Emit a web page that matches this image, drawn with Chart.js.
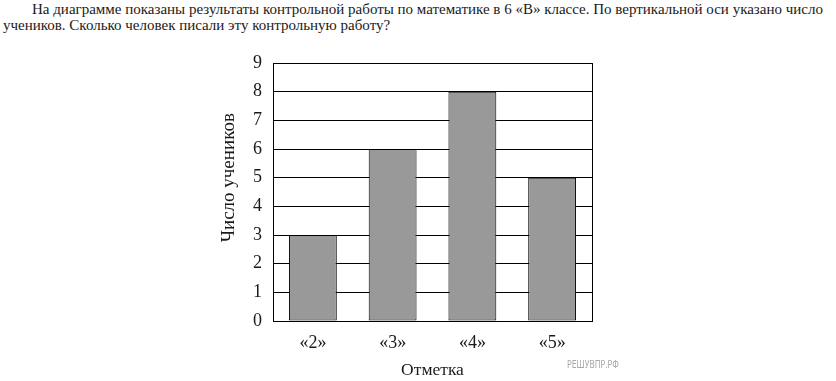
<!DOCTYPE html>
<html lang="ru">
<head>
<meta charset="utf-8">
<title>Отметка</title>
<script src="https://cdn.jsdelivr.net/npm/chart.js@4.4.1/dist/chart.umd.min.js"></script>
<style>
  html, body {
    margin: 0;
    padding: 0;
    background: #fff;
  }
  body {
    width: 836px;
    height: 381px;
    position: relative;
    overflow: hidden;
    font-family: 'Liberation Serif', 'Times New Roman', serif;
    color: #1a1a1a;
  }
  .question {
    position: absolute;
    font-size: 15px;
    line-height: 16px;
    white-space: nowrap;
  }
  .line-1 {
    left: 32px;
    top: 1px;
  }
  .line-2 {
    left: 3px;
    top: 17px;
  }
  #chartBox {
    position: absolute;
    left: 0;
    top: 0;
    width: 836px;
    height: 381px;
  }
  .watermark {
    position: absolute;
    left: 567px;
    top: 358px;
    font-family: 'DejaVu Sans', sans-serif;
    font-size: 11px;
    color: #a8a8a8;
    transform: scaleX(0.7);
    transform-origin: left top;
  }
</style>
</head>
<body>
<div class="question line-1">На диаграмме показаны результаты контрольной работы по математике в 6 «В» классе. По вертикальной оси указано число</div>
<div class="question line-2">учеников. Сколько человек писали эту контрольную работу?</div>
<div id="chartBox"><canvas id="chart"></canvas></div>
<div class="watermark">РЕШУВПР.РФ</div>
<script>
const grades = ['«2»', '«3»', '«4»', '«5»'];
const studentCounts = [3, 6, 8, 5];
const yTicks = [0, 1, 2, 3, 4, 5, 6, 7, 8, 9];

const serif = "'Liberation Serif', 'Times New Roman', serif";
const ink = '#1a1a1a';

// black frame around the plot area, drawn after the bars
const frame = {
  id: 'frame',
  afterDatasetsDraw(chart) {
    const { ctx, chartArea } = chart;
    ctx.save();
    ctx.strokeStyle = '#000';
    ctx.lineWidth = 1;
    ctx.strokeRect(
      Math.round(chartArea.left) + 0.5,
      Math.round(chartArea.top) + 0.5,
      Math.round(chartArea.right - chartArea.left),
      Math.round(chartArea.bottom - chartArea.top)
    );
    ctx.restore();
  }
};

new Chart(document.getElementById('chart'), {
  type: 'bar',
  data: {
    labels: grades,
    datasets: [{
      label: 'Число учеников',
      data: studentCounts,
      backgroundColor: '#999999',
      borderColor: '#000',
      borderWidth: 1,
      borderSkipped: false,
      barPercentage: 0.6,
      categoryPercentage: 1
    }]
  },
  options: {
    responsive: true,
    maintainAspectRatio: false,
    animation: false,
    events: [],
    layout: {
      padding: { left: 213, right: 244, top: 63, bottom: 0 }
    },
    plugins: {
      legend: { display: false },
      tooltip: { enabled: false }
    },
    scales: {
      x: {
        afterFit(scale) { scale.height = 60; },
        grid: { display: false, drawTicks: false },
        border: { display: true, color: '#000' },
        ticks: {
          color: ink,
          padding: 11,
          font: { family: serif, size: 18 }
        },
        title: {
          display: true,
          text: 'Отметка',
          color: ink,
          padding: { top: 0, bottom: 0 },
          font: { family: serif, size: 17.5 }
        }
      },
      y: {
        min: 0,
        max: 9,
        afterFit(scale) { scale.width = 60; },
        afterBuildTicks(scale) {
          scale.ticks = yTicks.map((v) => ({ value: v }));
        },
        grid: { color: '#000', lineWidth: 1, drawTicks: false },
        border: { display: true, color: '#000' },
        ticks: {
          color: ink,
          padding: 11,
          font: { family: serif, size: 18 }
        },
        title: {
          display: true,
          // leading spaces lift the centred title the way the original sits
          text: '\u00A0\u00A0\u00A0\u00A0\u00A0\u00A0Число учеников',
          color: ink,
          padding: { top: 5, bottom: 0 },
          font: { family: serif, size: 19 }
        }
      }
    }
  },
  plugins: [frame]
});
</script>
</body>
</html>
